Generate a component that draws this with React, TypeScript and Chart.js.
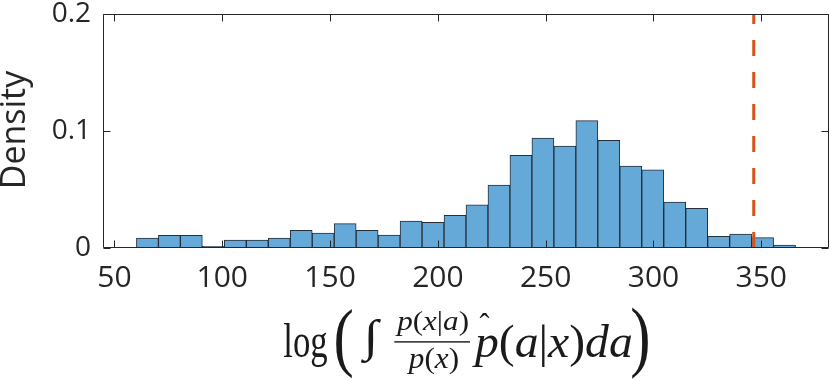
import React, { useEffect, useRef } from "react";
import { Chart, registerables } from "chart.js";

Chart.register(...registerables);

// Histogram bin edges
const binEdges = [
  60.2, 70.39, 80.58, 90.77, 100.96, 111.15, 121.34, 131.53, 141.72, 151.91,
  162.1, 172.29, 182.48, 192.67, 202.86, 213.05, 223.24, 233.43, 243.62, 253.81,
  264.0, 274.19, 284.38, 294.57, 304.76, 314.95, 325.14, 335.33, 345.52, 355.71, 365.9,
];
// Density per bin
const density = [
  0.0085, 0.0108, 0.0108, 0.0014, 0.0068, 0.0068, 0.0085, 0.015, 0.0128, 0.0208,
  0.015, 0.0111, 0.0231, 0.0219, 0.0279, 0.0368, 0.0538, 0.0791, 0.094, 0.0872,
  0.1088, 0.092, 0.0701, 0.0669, 0.0393, 0.0339, 0.0099, 0.012, 0.0088, 0.0026,
];
// Observed value (dashed line)
const observedValue = 346.5;

const xTickValues = [50, 100, 150, 200, 250, 300, 350];
const yTickValues = [0, 0.1, 0.2];
const xLimits = [44.7, 381.4];
const yLimits = [0, 0.2];

const AXIS_COLOR = "#262626";
const SERIF = '"Liberation Serif", "DejaVu Serif", serif';

type Run = { t: string; it?: boolean };

function drawRuns(
  ctx: CanvasRenderingContext2D,
  runs: Run[],
  size: number,
  x0: number,
  y0: number,
  x1: number,
  y1: number
) {
  let adv = 0;
  let inkL = Infinity,
    inkR = -Infinity,
    asc = -Infinity,
    desc = -Infinity;
  const placed = runs.map((r) => {
    ctx.font = `${r.it ? "italic " : ""}${size}px ${SERIF}`;
    const m = ctx.measureText(r.t);
    const x = adv;
    inkL = Math.min(inkL, x - m.actualBoundingBoxLeft);
    inkR = Math.max(inkR, x + m.actualBoundingBoxRight);
    asc = Math.max(asc, m.actualBoundingBoxAscent);
    desc = Math.max(desc, m.actualBoundingBoxDescent);
    adv += m.width;
    return { ...r, x };
  });
  const sx = (x1 - x0) / (inkR - inkL);
  const sy = (y1 - y0) / (asc + desc);
  ctx.save();
  ctx.translate(x0, y0);
  ctx.scale(sx, sy);
  ctx.translate(-inkL, asc);
  ctx.textAlign = "left";
  ctx.textBaseline = "alphabetic";
  placed.forEach((r) => {
    ctx.font = `${r.it ? "italic " : ""}${size}px ${SERIF}`;
    ctx.fillText(r.t, r.x, 0);
  });
  ctx.restore();
}

const framePlugin = {
  id: "frame",
  afterDatasetsDraw(chart: any) {
    const { ctx, chartArea } = chart;
    const xs = chart.scales.x;
    const ys = chart.scales.y;
    const L = Math.round(chartArea.left) + 0.5;
    const R = Math.round(chartArea.right) - 0.5;
    const T = Math.round(chartArea.top) + 0.5;
    const B = Math.round(chartArea.bottom) - 0.5;
    const tick = 7;
    ctx.save();
    ctx.strokeStyle = AXIS_COLOR;
    ctx.lineWidth = 1;
    ctx.beginPath();
    ctx.rect(L, T, R - L, B - T);
    ctx.stroke();
    ctx.beginPath();
    xTickValues.forEach((v) => {
      const px = Math.round(xs.getPixelForValue(v)) + 0.5;
      ctx.moveTo(px, B);
      ctx.lineTo(px, B - tick);
      ctx.moveTo(px, T);
      ctx.lineTo(px, T + tick);
    });
    yTickValues.forEach((v) => {
      const py = Math.round(ys.getPixelForValue(v)) + 0.5;
      ctx.moveTo(L, py);
      ctx.lineTo(L + tick, py);
      ctx.moveTo(R, py);
      ctx.lineTo(R - tick, py);
    });
    ctx.stroke();
    ctx.restore();
  },
  afterDraw(chart: any) {
    const { ctx } = chart;
    ctx.save();
    ctx.fillStyle = AXIS_COLOR;
    // y axis title
    ctx.save();
    ctx.translate(25, 130);
    ctx.rotate(-Math.PI / 2);
    ctx.font = '34px "Open Sans", "Noto Sans", sans-serif';
    ctx.textAlign = "center";
    ctx.textBaseline = "alphabetic";
    ctx.fillText("Density", 0, 0);
    ctx.restore();

    // x axis title: log( ∫ p(x|a)/p(x) p̂(a|x) da )
    ctx.fillStyle = "#1a1a1a";
    drawRuns(ctx, [{ t: "log" }], 44, 283.3, 323.3, 327.7, 366.7);
    drawRuns(ctx, [{ t: "(" }], 44, 335, 308, 353, 379);
    drawRuns(ctx, [{ t: "∫", it: false }], 44, 360, 318.3, 381.7, 363.3);
    drawRuns(
      ctx,
      [{ t: "p", it: true }, { t: "(" }, { t: "x", it: true }, { t: "|" }, { t: "a", it: true }, { t: ")" }],
      29,
      395,
      310,
      468.3,
      336.7
    );
    ctx.fillRect(394.3, 341.2, 75.7, 1.4);
    drawRuns(
      ctx,
      [{ t: "p", it: true }, { t: "(" }, { t: "x", it: true }, { t: ")" }],
      29,
      406.7,
      346.7,
      458.3,
      375
    );
    drawRuns(ctx, [{ t: "ˆ" }], 40, 479.5, 313.3, 490, 318.3);
    drawRuns(
      ctx,
      [
        { t: "p", it: true },
        { t: "(" },
        { t: "a", it: true },
        { t: "|" },
        { t: "x", it: true },
        { t: ")" },
        { t: "d", it: true },
        { t: "a", it: true },
      ],
      44,
      471.7,
      323,
      631.7,
      368
    );
    drawRuns(ctx, [{ t: ")" }], 44, 631.7, 307, 648.3, 380);
    ctx.restore();
  },
};

export default function App() {
  const canvasRef = useRef<HTMLCanvasElement | null>(null);

  useEffect(() => {
    document.body.style.margin = "0";
    const canvas = canvasRef.current;
    if (!canvas) return;
    const centers = density.map((_, i) => (binEdges[i] + binEdges[i + 1]) / 2);
    const chart = new Chart(canvas, {
      type: "bar",
      data: {
        datasets: [
          {
            type: "line",
            data: [
              { x: observedValue, y: yLimits[0] },
              { x: observedValue, y: yLimits[1] },
            ],
            borderColor: "#D95319",
            borderWidth: 3,
            borderDash: [16, 16],
            pointRadius: 0,
            fill: false,
            order: 0,
          } as any,
          {
            type: "bar",
            data: centers.map((c, i) => ({ x: c, y: density[i] })),
            backgroundColor: "#64A9D7",
            borderColor: "rgba(15,25,35,0.9)",
            borderWidth: 1,
            borderSkipped: false,
            barPercentage: 1,
            categoryPercentage: 1,
            order: 1,
          } as any,
        ],
      },
      options: {
        responsive: false,
        animation: false,
        layout: { padding: { top: 14, right: 1, left: 0, bottom: 0 } },
        plugins: { legend: { display: false }, tooltip: { enabled: false } },
        scales: {
          x: {
            type: "linear",
            offset: false,
            min: xLimits[0],
            max: xLimits[1],
            grid: { display: false, drawTicks: false, offset: false },
            border: { display: false },
            ticks: {
              font: { family: '"Open Sans", "Noto Sans", sans-serif', size: 30 },
              color: AXIS_COLOR,
              padding: 12,
              maxRotation: 0,
              autoSkip: false,
              callback: (v: any) => String(v),
            },
            afterBuildTicks: (s: any) => {
              s.ticks = xTickValues.map((v) => ({ value: v }));
            },
            afterFit: (s: any) => {
              s.height = 133;
              s.paddingLeft = 0;
              s.paddingRight = 0;
            },
          },
          y: {
            type: "linear",
            min: yLimits[0],
            max: yLimits[1],
            grid: { display: false, drawTicks: false },
            border: { display: false },
            ticks: {
              font: { family: '"Open Sans", "Noto Sans", sans-serif', size: 28 },
              color: AXIS_COLOR,
              padding: 12,
              callback: (v: any) => (v === 0 ? "0" : Number(v).toFixed(1)),
            },
            afterBuildTicks: (s: any) => {
              s.ticks = yTickValues.map((v) => ({ value: v }));
            },
            afterFit: (s: any) => {
              s.width = 103;
              s.paddingTop = 0;
              s.paddingBottom = 0;
            },
          },
        },
      },
      plugins: [framePlugin],
    });
    return () => chart.destroy();
  }, []);

  return (
    <div style={{ position: "absolute", left: 0, top: 0, width: 830, height: 381, background: "#fff" }}>
      <canvas ref={canvasRef} width={830} height={381} style={{ display: "block" }} />
    </div>
  );
}
